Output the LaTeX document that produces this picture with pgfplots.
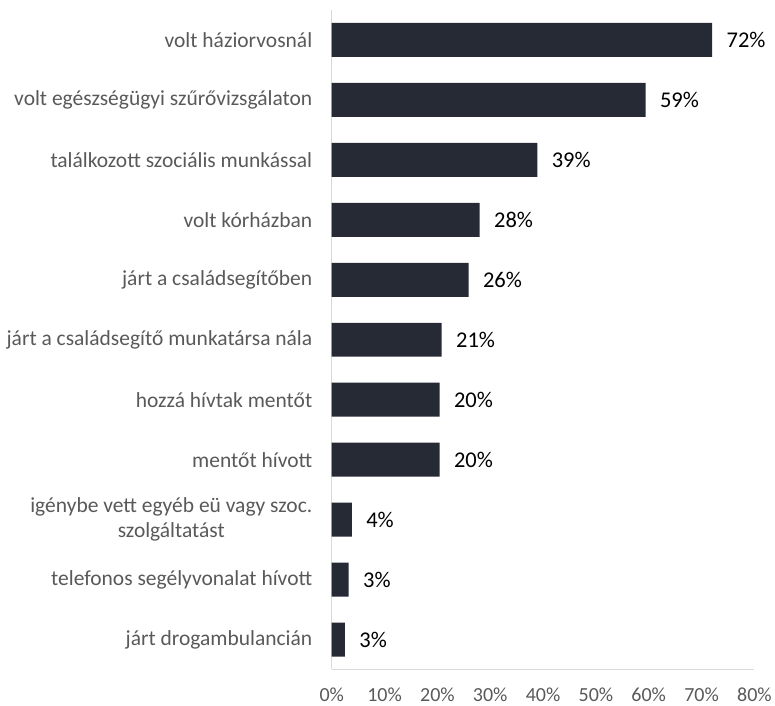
\documentclass[border=0pt]{standalone}
\usepackage{fontspec}
\setmainfont{Carlito}
\usepackage{pgfplots}
\pgfplotsset{compat=1.18}
\definecolor{barc}{HTML}{252A35}
\definecolor{txtg}{HTML}{595959}
\definecolor{axg}{HTML}{D9D9D9}
\begin{document}
\begin{tikzpicture}
\begin{axis}[
  name=ax,
  scale only axis,
  width=423bp, height=660bp,
  xbar, bar width=34bp,
  xmin=0, xmax=80,
  ymin=-0.5, ymax=10.5,
  y dir=reverse,
  axis x line*=bottom, axis y line*=left,
  axis line style={draw=axg, line width=1.3bp},
  major tick length=0pt,
  xtick={0,10,...,80},
  xticklabels={0\%,10\%,20\%,30\%,40\%,50\%,60\%,70\%,80\%},
  ytick={0,...,10},
  yticklabels={volt háziorvosnál,volt egészségügyi szűrővizsgálaton,találkozott szociális munkással,volt kórházban,járt a családsegítőben,járt a családsegítő munkatársa nála,hozzá hívtak mentőt,mentőt hívott,{igénybe vett egyéb eü vagy szoc.\\szolgáltatást},telefonos segélyvonalat hívott,járt drogambulancián},
  yticklabel style={font=\fontsize{21.5bp}{25bp}\selectfont, text=txtg, align=center, xshift=-16bp},
  xticklabel style={font=\fontsize{20bp}{24bp}\selectfont, text=txtg, yshift=-15bp},
  nodes near coords,
  point meta=explicit symbolic,
  every node near coord/.append style={font=\fontsize{22.5bp}{26bp}\selectfont, text=black, anchor=west, xshift=11bp},
  clip=false,
]
\addplot[fill=barc, draw=none] coordinates {
 (72,0) [72\%]
 (59.4,1) [59\%]
 (38.9,2) [39\%]
 (28,3) [28\%]
 (25.9,4) [26\%]
 (20.8,5) [21\%]
 (20.4,6) [20\%]
 (20.4,7) [20\%]
 (3.8,8) [4\%]
 (3.2,9) [3\%]
 (2.5,10) [3\%]
};
\end{axis}
\path (ax.south west) ++(-332bp,-35bp) rectangle ++(775bp,705bp);
\end{tikzpicture}
\end{document}
